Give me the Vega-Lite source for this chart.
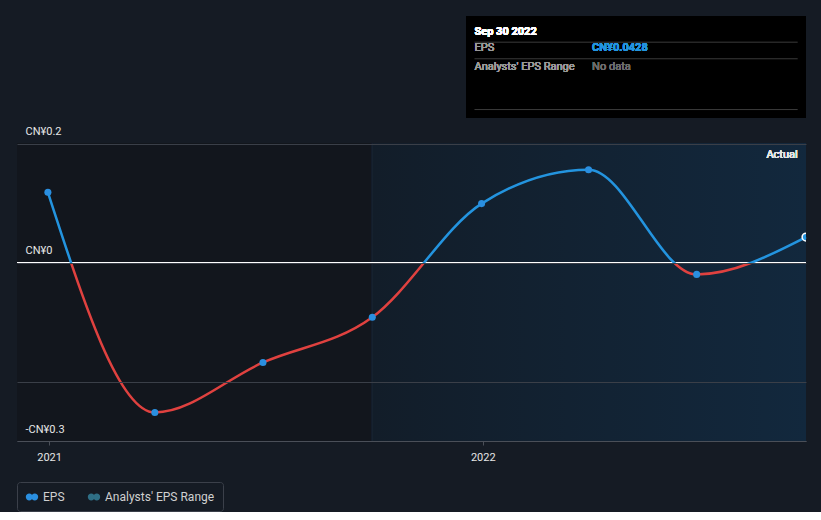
{
  "$schema": "https://vega.github.io/schema/vega-lite/v6.json",
  "width": 789,
  "height": 425,
  "padding": {"left": 16, "top": 16, "right": 16, "bottom": 0},
  "background": "#151b24",
  "config": {
    "view": {"stroke": null},
    "font": "Roboto",
    "legend": {
      "orient": "bottom",
      "direction": "horizontal",
      "labelColor": "#d0d0d0",
      "labelFontSize": 12,
      "symbolType": "M-0.9,0 A0.5,0.5 0 1,0 0.1,0 A0.5,0.5 0 1,0 -0.9,0 Z M-0.1,0 A0.5,0.5 0 1,0 0.9,0 A0.5,0.5 0 1,0 -0.1,0 Z",
      "symbolSize": 190,
      "symbolStrokeWidth": 0,
      "strokeColor": "#3b404a",
      "cornerRadius": 3,
      "padding": 8,
      "offset": 20,
      "columnPadding": 22
    }
  },
  "data": {
    "values": [
      {"date": "2020-12-31", "eps": 0.118, "series": "EPS"},
      {"date": "2021-03-31", "eps": -0.252, "series": "EPS"},
      {"date": "2021-06-30", "eps": -0.168, "series": "EPS"},
      {"date": "2021-09-30", "eps": -0.092, "series": "EPS"},
      {"date": "2021-12-31", "eps": 0.099, "series": "EPS"},
      {"date": "2022-03-31", "eps": 0.156, "series": "EPS"},
      {"date": "2022-06-30", "eps": -0.02, "series": "EPS"},
      {"date": "2022-09-30", "eps": 0.0428, "series": "EPS"}
    ]
  },
  "layer": [
    {
      "mark": {"type": "rect", "fill": "#12161d"},
      "encoding": {
        "x": {"datum": {"year": 2020, "month": 12, "date": 5}, "type": "temporal", "title": null,
              "scale": {"domain": [{"year": 2020, "month": 12, "date": 5}, {"year": 2022, "month": 9, "date": 30}], "nice": false},
              "axis": {"values": [{"year": 2021, "month": 1, "date": 1}, {"year": 2022, "month": 1, "date": 1}], "format": "%Y", "grid": false, "domain": true, "domainColor": "#4a4f58", "ticks": true, "tickColor": "#4a4f58", "tickSize": 4, "labelColor": "#e6e6e6", "labelFontSize": 11, "labelPadding": 6, "labelFlush": false, "title": null, "zindex": 1}},
        "x2": {"datum": {"year": 2021, "month": 9, "date": 30}},
        "y": {"datum": -0.3, "type": "quantitative", "title": null,
              "scale": {"domain": [-0.3, 0.4143], "nice": false, "zero": false},
              "axis": {"values": [0.2, 0, -0.2, -0.3], "grid": true, "gridColor": "#3a3f48", "gridWidth": 1, "domain": false, "ticks": false, "labelAlign": "left", "labelBaseline": "bottom", "labelPadding": -8, "labelOffset": -7, "labelColor": "#e6e6e6", "labelFontSize": 11, "labelExpr": "datum.value == -0.2 ? '' : (datum.value < 0 ? '-CN¥' + format(-datum.value, '') : 'CN¥' + format(datum.value, ''))", "title": null, "zindex": 1}},
        "y2": {"datum": 0.2}
      }
    },
    {
      "mark": {"type": "rect", "fill": {"gradient": "linear", "x1": 0, "y1": 0, "x2": 1, "y2": 0, "stops": [{"offset": 0, "color": "#121d29"}, {"offset": 1, "color": "#12283d"}]}},
      "encoding": {
        "x": {"datum": {"year": 2021, "month": 9, "date": 30}, "type": "temporal", "title": null},
        "x2": {"datum": {"year": 2022, "month": 9, "date": 30}},
        "y": {"datum": -0.3, "type": "quantitative", "title": null},
        "y2": {"datum": 0.2}
      }
    },
    {
      "mark": {"type": "rule", "color": "#172330", "strokeWidth": 1},
      "encoding": {
        "x": {"datum": {"year": 2021, "month": 9, "date": 30}, "type": "temporal", "title": null},
        "y": {"datum": -0.3, "type": "quantitative", "title": null},
        "y2": {"datum": 0.2}
      }
    },
    {
      "mark": {"type": "rule", "color": "#ffffff", "strokeWidth": 1},
      "encoding": {
        "y": {"datum": 0, "type": "quantitative", "title": null}
      }
    },
    {
      "mark": {"type": "line", "interpolate": "monotone", "strokeWidth": 2.5,
               "stroke": {"gradient": "linear", "x1": 0, "y1": 0, "x2": 0, "y2": 1,
                          "stops": [{"offset": 0, "color": "#2394df"}, {"offset": 0.3824, "color": "#2394df"}, {"offset": 0.3824, "color": "#e0413f"}, {"offset": 1, "color": "#e0413f"}]}},
      "encoding": {
        "x": {"field": "date", "type": "temporal", "title": null},
        "y": {"field": "eps", "type": "quantitative", "title": null}
      }
    },
    {
      "mark": {"type": "circle", "size": 50, "opacity": 1, "clip": true},
      "encoding": {
        "x": {"field": "date", "type": "temporal", "title": null},
        "y": {"field": "eps", "type": "quantitative", "title": null},
        "color": {"field": "series", "type": "nominal", "title": null,
                  "scale": {"domain": ["EPS", "Analysts' EPS Range"], "range": ["#2a8fe0", "#2f6f86"]}}
      }
    },
    {
      "transform": [{"filter": "datum.eps == 0.0428"}],
      "mark": {"type": "point", "filled": true, "size": 60, "fill": "#2394df", "stroke": "#ffffff", "strokeWidth": 1.5, "opacity": 1, "clip": true},
      "encoding": {
        "x": {"field": "date", "type": "temporal", "title": null},
        "y": {"field": "eps", "type": "quantitative", "title": null}
      }
    },
    {
      "mark": {"type": "text", "align": "right", "baseline": "middle", "color": "#e6e6e6", "fontSize": 11},
      "encoding": {
        "x": {"datum": {"year": 2022, "month": 9, "date": 23}, "type": "temporal", "title": null},
        "y": {"datum": 0.1815, "type": "quantitative", "title": null},
        "text": {"value": "Actual"}
      }
    },
    {
      "mark": {"type": "rect", "fill": "#000000"},
      "encoding": {
        "x": {"datum": {"year": 2021, "month": 12, "date": 18}, "type": "temporal", "title": null},
        "x2": {"datum": {"year": 2022, "month": 9, "date": 30}},
        "y": {"datum": 0.2437, "type": "quantitative", "title": null},
        "y2": {"datum": 0.4143}
      }
    },
    {
      "data": {"values": [{"row": "a", "v": 0.3703}, {"row": "b", "v": 0.3424}, {"row": "c", "v": 0.2571}]},
      "mark": {"type": "rule", "color": "#3a3a3a", "strokeWidth": 1},
      "encoding": {
        "x": {"datum": {"year": 2021, "month": 12, "date": 25}, "type": "temporal", "title": null},
        "x2": {"datum": {"year": 2022, "month": 9, "date": 23}},
        "y": {"field": "v", "type": "quantitative", "title": null}
      }
    },
    {
      "mark": {"type": "text", "align": "left", "baseline": "middle", "color": "#ffffff", "fontSize": 11, "fontWeight": "bold"},
      "encoding": {
        "x": {"datum": {"year": 2021, "month": 12, "date": 25}, "type": "temporal", "title": null},
        "y": {"datum": 0.3882, "type": "quantitative", "title": null},
        "text": {"value": "Sep 30 2022"}
      }
    },
    {
      "mark": {"type": "text", "align": "left", "baseline": "middle", "color": "#9a9a9a", "fontSize": 11},
      "encoding": {
        "x": {"datum": {"year": 2021, "month": 12, "date": 25}, "type": "temporal", "title": null},
        "y": {"datum": 0.3597, "type": "quantitative", "title": null},
        "text": {"value": "EPS"}
      }
    },
    {
      "mark": {"type": "text", "align": "left", "baseline": "middle", "color": "#9a9a9a", "fontSize": 11},
      "encoding": {
        "x": {"datum": {"year": 2021, "month": 12, "date": 25}, "type": "temporal", "title": null},
        "y": {"datum": 0.3294, "type": "quantitative", "title": null},
        "text": {"value": "Analysts' EPS Range"}
      }
    },
    {
      "mark": {"type": "text", "align": "left", "baseline": "middle", "color": "#2394df", "fontSize": 11, "fontWeight": "bold"},
      "encoding": {
        "x": {"datum": {"year": 2022, "month": 4, "date": 3}, "type": "temporal", "title": null},
        "y": {"datum": 0.3597, "type": "quantitative", "title": null},
        "text": {"value": "CN¥0.0428"}
      }
    },
    {
      "mark": {"type": "text", "align": "left", "baseline": "middle", "color": "#6c6c6c", "fontSize": 11},
      "encoding": {
        "x": {"datum": {"year": 2022, "month": 4, "date": 3}, "type": "temporal", "title": null},
        "y": {"datum": 0.3294, "type": "quantitative", "title": null},
        "text": {"value": "No data"}
      }
    }
  ]
}
